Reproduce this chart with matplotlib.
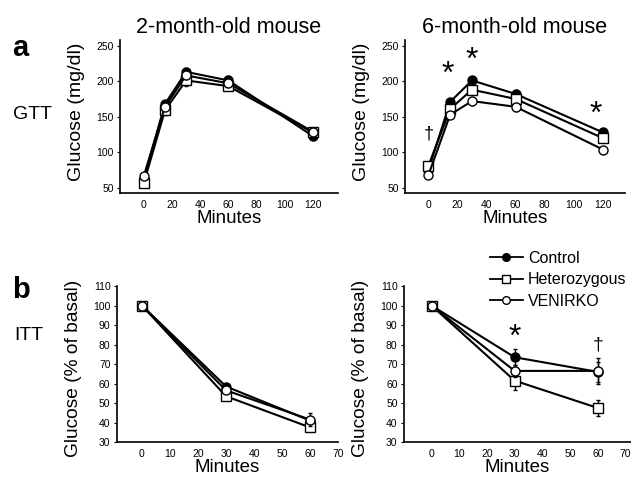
import numpy as np
import matplotlib
matplotlib.use("Agg")
import matplotlib.pyplot as plt
from matplotlib.lines import Line2D

plt.rcParams['font.family'] = ['Liberation Sans', 'DejaVu Sans']

# GTT time points (minutes)
gtt_min = [0, 15, 30, 60, 120]

# 2-month-old GTT (mg/dl)
gtt2_ctrl = [63, 168, 213, 201, 123]
gtt2_het = [57, 159, 201, 193, 128]
gtt2_ven = [67, 164, 208, 197, 129]
gtt2_ctrl_err = [3, 4, 6, 6, 5]
gtt2_het_err = [3, 6, 8, 6, 5]
gtt2_ven_err = [3, 4, 5, 5, 5]

# 6-month-old GTT (mg/dl)
gtt6_ctrl = [75, 171, 201, 182, 128]
gtt6_het = [81, 161, 188, 175, 120]
gtt6_ven = [68, 153, 172, 164, 104]
gtt6_ctrl_err = [3, 3, 5, 6, 4]
gtt6_het_err = [3, 4, 6, 6, 4]
gtt6_ven_err = [3, 3, 5, 6, 4]

# ITT time points (minutes)
itt_min = [0, 30, 60]

# 2-month-old ITT (% of basal)
itt2_ctrl = [100, 58.5, 41]
itt2_het = [100, 53.5, 37.5]
itt2_ven = [100, 56.5, 41.5]
itt2_ctrl_err = [0, 1.5, 2]
itt2_het_err = [0, 1.5, 2]
itt2_ven_err = [0, 1.5, 3.5]

# 6-month-old ITT (% of basal)
itt6_ctrl = [100, 73.5, 66]
itt6_het = [100, 61.5, 47.5]
itt6_ven = [100, 66.5, 66.5]
itt6_ctrl_err = [0, 4, 5]
itt6_het_err = [0, 5, 4]
itt6_ven_err = [0, 3, 6.5]

labels = ['Control', 'Heterozygous', 'VENIRKO']

fig = plt.figure(figsize=(6.31, 4.8), dpi=100)

ax_tl = fig.add_axes([0.190, 0.598, 0.346, 0.319])
ax_tr = fig.add_axes([0.642, 0.598, 0.348, 0.319])
ax_bl = fig.add_axes([0.185, 0.079, 0.351, 0.325])
ax_br = fig.add_axes([0.640, 0.079, 0.360, 0.325])


def draw(ax, x, ctrl, het, ven, ce, he, ve):
    ax.errorbar(x, ctrl, yerr=ce, color='black', lw=1.5, marker='o',
                ms=6.5, mfc='black', mec='black', capsize=1.5,
                elinewidth=1, zorder=3)
    ax.errorbar(x, het, yerr=he, color='black', lw=1.5, marker='s',
                ms=7, mfc='white', mec='black', capsize=1.5,
                elinewidth=1, zorder=4)
    ax.errorbar(x, ven, yerr=ve, color='black', lw=1.5, marker='o',
                ms=6.5, mfc='white', mec='black', capsize=1.5,
                elinewidth=1, zorder=5)
    for s in ['top', 'right']:
        ax.spines[s].set_visible(False)
    ax.spines['left'].set_linewidth(1.2)
    ax.spines['bottom'].set_linewidth(1.2)
    ax.tick_params(axis='both', labelsize=7.5, length=2.5, width=0.8, pad=2)
    ax.tick_params(axis='x', length=0, pad=5)


draw(ax_tl, gtt_min, gtt2_ctrl, gtt2_het, gtt2_ven,
     gtt2_ctrl_err, gtt2_het_err, gtt2_ven_err)
draw(ax_tr, gtt_min, gtt6_ctrl, gtt6_het, gtt6_ven,
     gtt6_ctrl_err, gtt6_het_err, gtt6_ven_err)
draw(ax_bl, itt_min, itt2_ctrl, itt2_het, itt2_ven,
     itt2_ctrl_err, itt2_het_err, itt2_ven_err)
draw(ax_br, itt_min, itt6_ctrl, itt6_het, itt6_ven,
     itt6_ctrl_err, itt6_het_err, itt6_ven_err)

for ax in [ax_tl, ax_tr]:
    ax.set_ylim(43, 258)
    ax.set_yticks([50, 100, 150, 200, 250])
    ax.set_xticks([0, 20, 40, 60, 80, 100, 120])
    ax.set_xlabel('Minutes', fontsize=13.5, labelpad=0)
    ax.set_ylabel('Glucose (mg/dl)', fontsize=14)
    ax.yaxis.set_label_coords(-0.16, 0.53)
ax_tl.set_xlim(-17, 138)
ax_tr.set_xlim(-16, 135)

for ax in [ax_bl, ax_br]:
    ax.set_ylim(30, 110)
    ax.set_yticks(range(30, 111, 10))
    ax.set_xticks(range(0, 71, 10))
    ax.set_xlabel('Minutes', fontsize=13.5, labelpad=0)
    ax.set_ylabel('Glucose (% of basal)', fontsize=13.8)
    ax.yaxis.set_label_coords(-0.155, 0.47)
ax_bl.set_xlim(-9, 70)
ax_br.set_xlim(-10, 72)

ax_tl.set_title('2-month-old mouse', fontsize=15.5, pad=5)
ax_tr.set_title('6-month-old mouse', fontsize=15.5, pad=5)

# significance marks
ax_tr.text(13, 209, '*', fontsize=23, ha='center', va='center')
ax_tr.text(29.5, 229, '*', fontsize=23, ha='center', va='center')
ax_tr.text(115, 153, '*', fontsize=23, ha='center', va='center')
ax_tr.text(0, 126, '\u2020', fontsize=13, ha='center', va='center')
ax_br.text(30, 83.5, '*', fontsize=23, ha='center', va='center')
ax_br.text(60, 80, '\u2020', fontsize=14, ha='center', va='center')

# panel letters and row labels
fig.text(0.019, 0.899, 'a', fontsize=21, fontweight='bold', va='center')
fig.text(0.019, 0.395, 'b', fontsize=21, fontweight='bold', va='center')
fig.text(0.021, 0.762, 'GTT', fontsize=14, va='center')
fig.text(0.022, 0.302, 'ITT', fontsize=14, va='center')

handles = [
    Line2D([], [], color='black', lw=1.3, marker='o', ms=5.5,
           mfc='black', mec='black'),
    Line2D([], [], color='black', lw=1.3, marker='s', ms=6,
           mfc='white', mec='black'),
    Line2D([], [], color='black', lw=1.3, marker='o', ms=5.5,
           mfc='white', mec='black'),
]
fig.legend(handles, labels, loc='upper left', bbox_to_anchor=(0.776, 0.477),
           frameon=False, fontsize=11.5, handlelength=2.1, handletextpad=0.3,
           labelspacing=0.4, borderpad=0, borderaxespad=0)

fig.savefig('out.png', dpi=100)
